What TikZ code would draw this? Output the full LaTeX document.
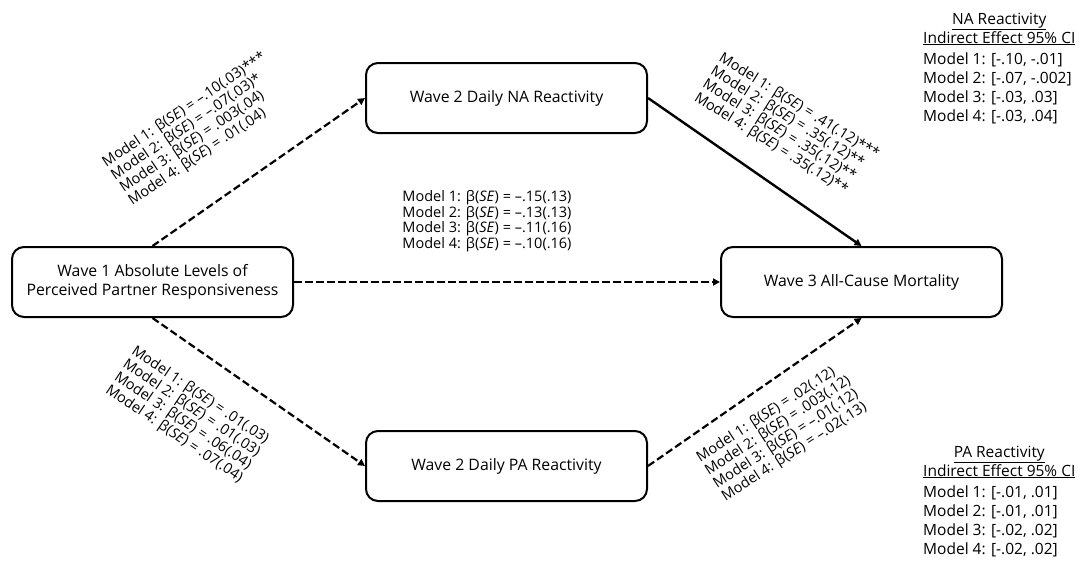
\documentclass[tikz,border=0pt]{standalone}
\usepackage{fontspec}
\setmainfont{Open Sans}
\usetikzlibrary{arrows.meta}
\begin{document}
\begin{tikzpicture}[x=1pt,y=1pt,
  box/.style={draw, line width=2pt, rounded corners=12pt, minimum width=281pt, minimum height=70pt, align=center, font=\fontsize{15.8}{18.5}\selectfont, inner sep=0pt},
  dasharrow/.style={line width=2.2pt, dash pattern=on 7.5pt off 3.5pt, -{Triangle[length=7pt,width=7pt]}},
  solidarrow/.style={line width=2.4pt, -{Triangle[length=7pt,width=7pt]}},
  coef/.style={inner sep=0pt, align=left, font=\fontsize{14.5}{15.5}\selectfont},
  ci/.style={inner sep=0pt, anchor=base west, font=\fontsize{15.5}{19}\selectfont}
]
\useasboundingbox (0,0) rectangle (1081,-563);

\node[box] (w1) at (152.5,-282) {Wave 1 Absolute Levels of\\Perceived Partner Responsiveness};
\node[box] (na) at (506.5,-98) {Wave 2 Daily NA Reactivity};
\node[box] (pa) at (506.5,-466) {Wave 2 Daily PA Reactivity};
\node[box] (mort) at (861.5,-282) {Wave 3 All-Cause Mortality};

\draw[dasharrow] (w1.north) -- (na.west);
\draw[dasharrow] (w1.south) -- (pa.west);
\draw[dasharrow] (w1.east) -- (mort.west);
\draw[dasharrow] (pa.east) -- (mort.south);
\draw[solidarrow] (na.east) -- (mort.north);

\node[coef, rotate=34, anchor=north west] (lul) at (100,-158) {Model 1: β(\textit{SE}) = –.10(.03)***\\Model 2: β(\textit{SE}) = –.07(.03)*\\Model 3: β(\textit{SE}) = .003(.04)\\Model 4: β(\textit{SE}) = .01(.04)};
\node[coef, rotate=-34, anchor=north west] (lll) at (137,-344) {Model 1: β(\textit{SE}) = .01(.03)\\Model 2: β(\textit{SE}) = .01(.03)\\Model 3: β(\textit{SE}) = .06(.04)\\Model 4: β(\textit{SE}) = .07(.04)};
\node[coef, rotate=-32, anchor=north west] (lur) at (724,-51) {Model 1: β(\textit{SE}) = .41(.12)***\\Model 2: β(\textit{SE}) = .35(.12)**\\Model 3: β(\textit{SE}) = .35(.12)**\\Model 4: β(\textit{SE}) = .35(.12)**};
\node[coef, rotate=33, anchor=north west] (llr) at (694,-453) {Model 1: β(\textit{SE}) = .02(.12)\\Model 2: β(\textit{SE}) = .003(.12)\\Model 3: β(\textit{SE}) = –.01(.12)\\Model 4: β(\textit{SE}) = –.02(.13)};
\node[coef, anchor=center] (lmid) at (487,-221) {Model 1: β(\textit{SE}) = –.15(.13)\\Model 2: β(\textit{SE}) = –.13(.13)\\Model 3: β(\textit{SE}) = –.11(.16)\\Model 4: β(\textit{SE}) = –.10(.16)};

\node[ci] (cina) at (923,-24) {\begin{tabular}[t]{@{}l@{}}\multicolumn{1}{@{}c@{}}{\underline{NA Reactivity}}\\ \underline{Indirect Effect 95\% CI}\\[2pt] Model 1: [-.10, -.01]\\ Model 2: [-.07, -.002]\\ Model 3: [-.03, .03]\\ Model 4: [-.03, .04]\end{tabular}};
\node[ci] (cipa) at (923,-457) {\begin{tabular}[t]{@{}l@{}}\multicolumn{1}{@{}c@{}}{\underline{PA Reactivity}}\\ \underline{Indirect Effect 95\% CI}\\[2pt] Model 1: [-.01, .01]\\ Model 2: [-.01, .01]\\ Model 3: [-.02, .02]\\ Model 4: [-.02, .02]\end{tabular}};
\end{tikzpicture}
\end{document}
